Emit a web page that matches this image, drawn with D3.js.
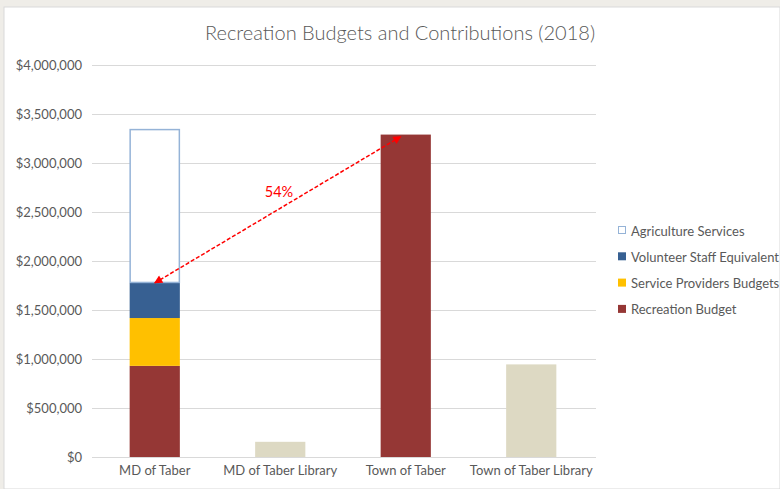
<!DOCTYPE html>
<html><head><meta charset="utf-8">
<script src="https://cdn.jsdelivr.net/npm/d3@7"></script>
<style>
body{margin:0;background:#efede8;}
svg{display:block;font-family:Lato, "Liberation Sans", sans-serif;}
</style></head><body>
<svg id="c" width="780" height="489"></svg>
<script>
const categories = ["MD of Taber","MD of Taber Library","Town of Taber","Town of Taber Library"];
const seriesNames = ["Recreation Budget","Service Providers Budgets","Volunteer Staff Equivalent","Agriculture Services"];
const recreation = [930000, 0, 3290000, 0];
const serviceProviders = [488000, 0, 0, 0];
const volunteer = [358000, 0, 0, 0];
const agriculture = [1570000, 0, 0, 0];
const library = [0, 155000, 0, 945000];
const yTicks = [0,500000,1000000,1500000,2000000,2500000,3000000,3500000,4000000];
const arrowLabel = "54%";

const svg = d3.select("#c");
svg.append("rect").attr("x",4).attr("y",7).attr("width",776).attr("height",482).attr("fill","#fff").attr("stroke","#d9d9d9");

const x = d3.scaleBand().domain(categories).range([92,594]).paddingInner(0.6).paddingOuter(0.3);
const y = d3.scaleLinear().domain([0,4000000]).range([457,65]);

// gridlines
svg.append("g").selectAll("line").data(yTicks).join("line")
 .attr("x1",92).attr("x2",596).attr("y1",d=>y(d)+0.5).attr("y2",d=>y(d)+0.5)
 .attr("stroke","#d9d9d9").attr("stroke-width",1);

// y labels
const yAxis = d3.axisLeft(y).tickValues(yTicks).tickSize(0).tickPadding(0).tickFormat(d=>"$"+d3.format(",")(d));
const ya = svg.append("g").attr("transform","translate(82,0)").call(yAxis);
ya.select(".domain").remove();
ya.selectAll("text").attr("fill","#595959").style("font-size","13px").style("font-family","Lato, sans-serif");

// x labels
const xAxis = d3.axisBottom(x).tickSize(0).tickPadding(0);
const xa = svg.append("g").attr("transform","translate(0,466)").call(xAxis);
xa.select(".domain").remove();
xa.selectAll("text").attr("fill","#595959").style("font-size","13px").style("font-family","Lato, sans-serif");

const colors = {"Recreation Budget":"#953735","Service Providers Budgets":"#ffc000","Volunteer Staff Equivalent":"#376092","Agriculture Services":"#fff"};
const values = [recreation, serviceProviders, volunteer, agriculture];
const rows = categories.map((c,i)=>{const o={cat:c}; seriesNames.forEach((s,j)=>o[s]=values[j][i]); return o;});
const stack = d3.stack().keys(seriesNames)(rows);
stack.forEach(layer=>{
  const isAg = layer.key==="Agriculture Services";
  svg.append("g").selectAll("rect").data(layer.filter(d=>d[1]-d[0]>0)).join("rect")
    .attr("x",d=>x(d.data.cat)+(isAg?0.5:0)).attr("width",x.bandwidth()-(isAg?1:0))
    .attr("y",d=>y(d[1])+(isAg?0.5:0)).attr("height",d=>y(d[0])-y(d[1])-(isAg?1:0))
    .attr("fill",colors[layer.key]).attr("stroke",isAg?"#95b3d7":"none").attr("stroke-width",isAg?1.5:0);
});
// library bars
svg.append("g").selectAll("rect").data(categories.map((c,i)=>({cat:c,v:library[i]})).filter(d=>d.v>0)).join("rect")
 .attr("x",d=>x(d.cat)).attr("width",x.bandwidth()).attr("y",d=>y(d.v)).attr("height",d=>y(0)-y(d.v)).attr("fill","#ddd9c3");

// arrow
const defs = svg.append("defs");
defs.append("marker").attr("id","ah").attr("viewBox","0 0 10 10").attr("refX",9).attr("refY",5)
 .attr("markerWidth",6.5).attr("markerHeight",5.5).attr("orient","auto-start-reverse").attr("markerUnits","strokeWidth")
 .append("path").attr("d","M0,0L10,5L0,10z").attr("fill","#ff0000");
const mdTop = recreation[0]+serviceProviders[0]+volunteer[0];
const x1 = x(categories[0])+x.bandwidth()/2, y1 = y(mdTop);
const x2 = x(categories[2])+x.bandwidth()*0.4, y2 = y(recreation[2])+2;
svg.append("line").attr("x1",x1).attr("y1",y1).attr("x2",x2).attr("y2",y2)
 .attr("stroke","#ff0000").attr("stroke-width",1.5).attr("stroke-dasharray","4,2")
 .attr("marker-start","url(#ah)").attr("marker-end","url(#ah)");
svg.append("text").attr("x",279).attr("y",197).attr("text-anchor","middle").attr("fill","#ff0000").style("font-size","14.5px").text(arrowLabel);

// title
svg.append("text").attr("x",400).attr("y",40).attr("text-anchor","middle").attr("fill","#595959").style("font-size","20px").style("font-weight","300").text("Recreation Budgets and Contributions (2018)");

// legend
const legOrder = ["Agriculture Services","Volunteer Staff Equivalent","Service Providers Budgets","Recreation Budget"];
const lg = svg.append("g").selectAll("g").data(legOrder).join("g").attr("transform",(d,i)=>`translate(618,${231+i*26.3})`);
lg.append("rect").attr("x",d=>d==="Agriculture Services"?0.5:0).attr("y",d=>d==="Agriculture Services"?-4.5:-5).attr("width",d=>d==="Agriculture Services"?7:8).attr("height",d=>d==="Agriculture Services"?7:8)
 .attr("fill",d=>colors[d]).attr("stroke",d=>d==="Agriculture Services"?"#95b3d7":"none");
lg.append("text").attr("x",13).attr("y",4.5).attr("fill","#595959").style("font-size","13px").text(d=>d);
</script></body></html>
